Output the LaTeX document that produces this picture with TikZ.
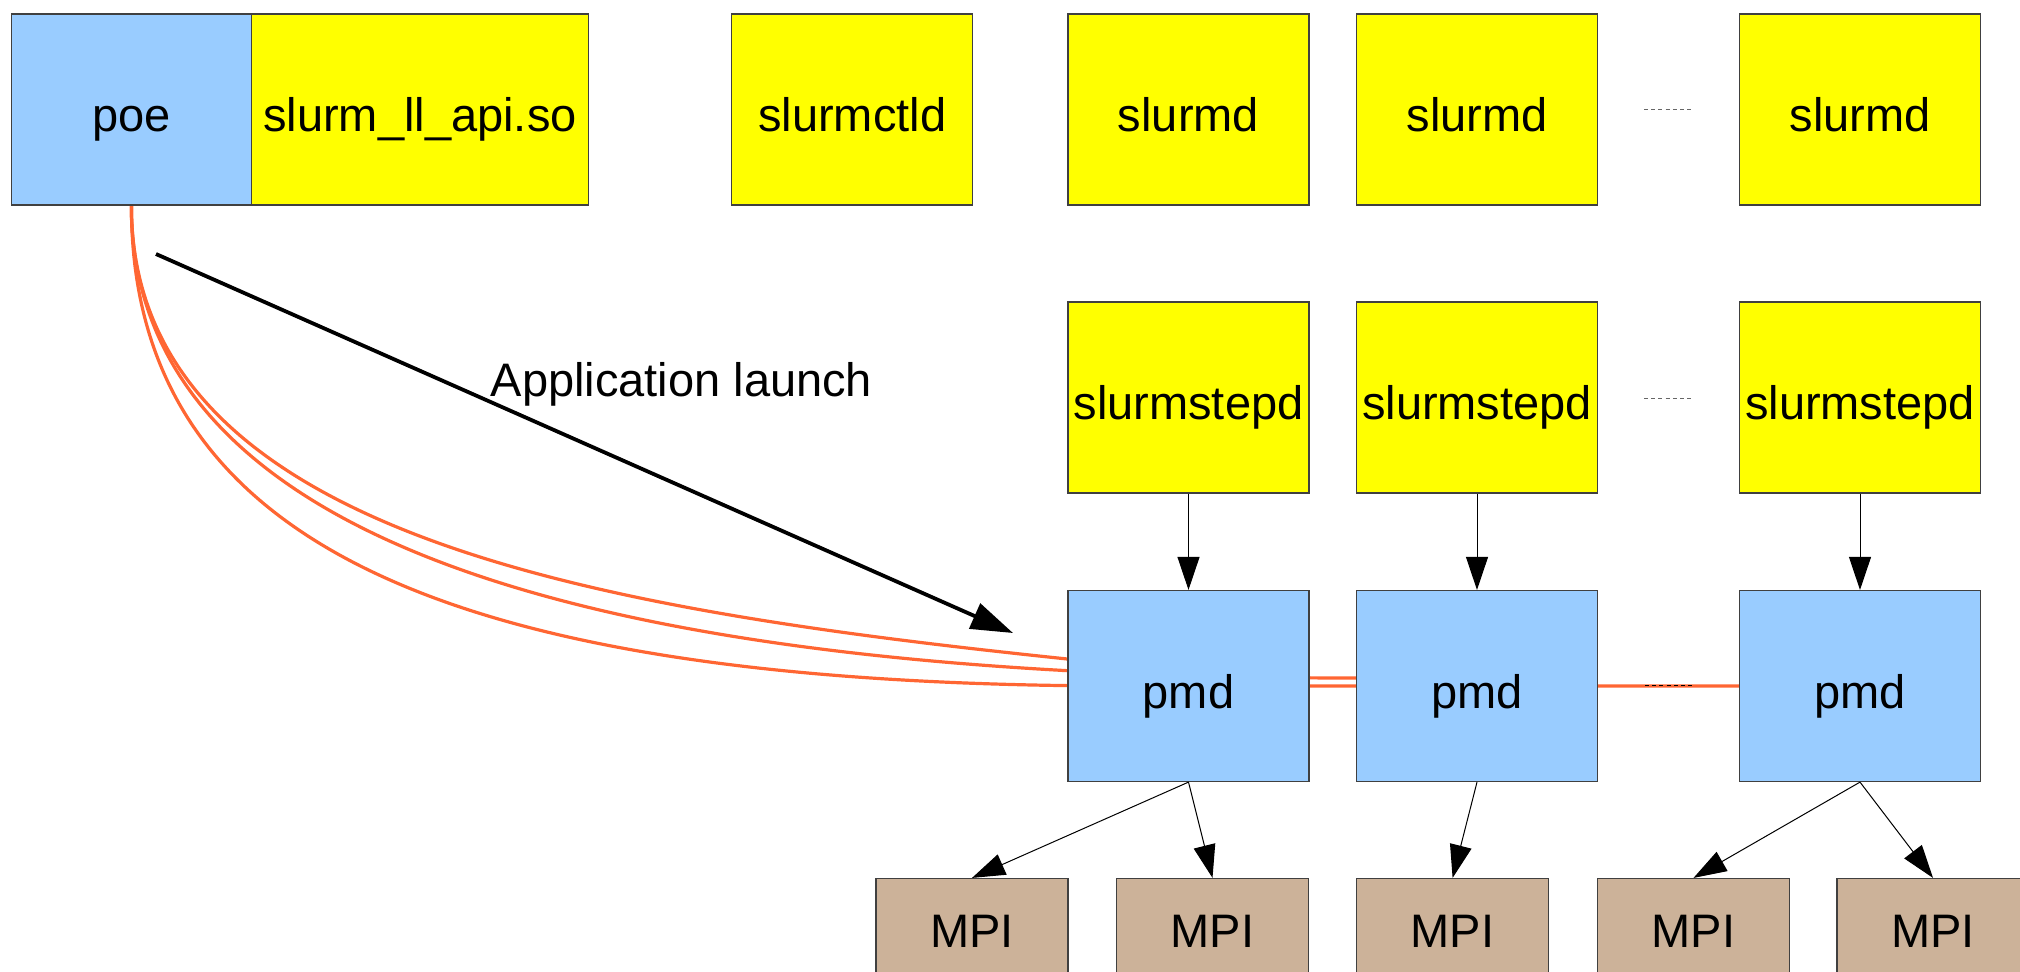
\documentclass[tikz,border=0pt]{standalone}
\usepackage{fontspec}
\setmainfont{Liberation Sans}
\usetikzlibrary{arrows.meta,calc}
\pgfdeclarelayer{bg}
\pgfsetlayers{bg,main}
\definecolor{procblue}{HTML}{99CCFF}
\definecolor{daemonyellow}{HTML}{FFFF00}
\definecolor{tasktan}{HTML}{CCB299}
\definecolor{linkorange}{HTML}{FF6633}

\begin{document}
\begin{tikzpicture}[x=0.5pt,y=-0.5pt,
  labelfont/.style={font=\fontsize{23.5}{28}\selectfont},
  box/.style={draw=black!75, line width=0.6pt, minimum width=120.5pt,
    minimum height=95.5pt, inner sep=0pt, text height=26pt,
    text depth=4pt, labelfont},
  daemon/.style={box, fill=daemonyellow},
  proc/.style={box, fill=procblue},
  task/.style={box, fill=tasktan, minimum width=96pt, minimum height=51.5pt,
    text height=24pt, text depth=6.7pt},
  spawn/.style={draw=black, line width=0.5pt,
    -{Triangle[length=16.5pt,width=11pt]}},
  launch/.style={draw=black, line width=1.9pt,
    -{Triangle[length=21pt,width=13.5pt]}},
  link/.style={draw=linkorange, line width=1.6pt},
  ellipsisdots/.style={draw=black!60, line width=0.5pt, dash pattern=on 2pt off 1.6pt}
]
\useasboundingbox (0,0) rectangle (2020,971);

% front end
\node[proc, minimum width=119.8pt] (poe) at (131.4,109.5) {poe};
\node[daemon, minimum width=168.8pt] (api) at (420,109.5) {slurm\_ll\_api.so};
\node[daemon] (ctld) at (852.2,109.5) {slurmctld};

% compute node daemons
\node[daemon] (slurmdA) at (1188.5,109.5) {slurmd};
\node[daemon] (slurmdB) at (1477,109.5) {slurmd};
\node[daemon] (slurmdC) at (1860,109.5) {slurmd};

\node[daemon] (stepdA) at (1188.5,397.5) {slurmstepd};
\node[daemon] (stepdB) at (1477,397.5) {slurmstepd};
\node[daemon] (stepdC) at (1860,397.5) {slurmstepd};

\node[proc] (pmdA) at (1188.5,686) {pmd};
\node[proc] (pmdB) at (1477,686) {pmd};
\node[proc] (pmdC) at (1860,686) {pmd};

% MPI tasks
\node[task] (mpiA) at (972,930) {MPI};
\node[task] (mpiB) at (1212.5,930) {MPI};
\node[task] (mpiC) at (1452.6,930) {MPI};
\node[task] (mpiD) at (1693.5,930) {MPI};
\node[task] (mpiE) at (1933,930) {MPI};

% poe connections to the pmd processes, behind the boxes
\begin{pgfonlayer}{bg}
\draw[link] (poe.south) .. controls ($(poe.south)+(0,330)$) and ($(pmdA.west)+(-468,-76)$) .. ($(pmdA.west)+(0,-27)$);
\draw[link] (poe.south) .. controls ($(poe.south)+(0,340)$) and ($(pmdB.west)+(-756.6,-8)$) .. ($(pmdB.west)+(0,-8)$);
\draw[link] (poe.south) .. controls ($(poe.south)+(0,340)$) and ($(pmdA.west)+(-618,0)$) .. ($(pmdA.west)+(62,0)$) -- (pmdC.west);
\end{pgfonlayer}

% application launch
\coordinate (launchFrom) at (156,254);
\coordinate (launchTo) at (1013,633);
\draw[launch] (launchFrom) -- (launchTo);
\node[labelfont, inner sep=0pt] (launchLabel) at (681.5,384) {Application launch};

% slurmstepd starts pmd
\draw[spawn] (stepdA) -- (pmdA);
\draw[spawn] (stepdB) -- (pmdB);
\draw[spawn] (stepdC) -- (pmdC);

% pmd starts the MPI tasks
\draw[spawn] (pmdA.south) -- (mpiA.north);
\draw[spawn] (pmdA.south) -- (mpiB.north);
\draw[spawn] (pmdB.south) -- (mpiC.north);
\draw[spawn] (pmdC.south) -- (mpiD.north);
\draw[spawn] (pmdC.south) -- (mpiE.north);

% more nodes in between
\draw[ellipsisdots] (1644,109.5) -- (1692,109.5);
\draw[ellipsisdots] (1644,398) -- (1692,398);
\draw[ellipsisdots, draw=black] (1645,685) -- (1692,685);
\end{tikzpicture}
\end{document}
